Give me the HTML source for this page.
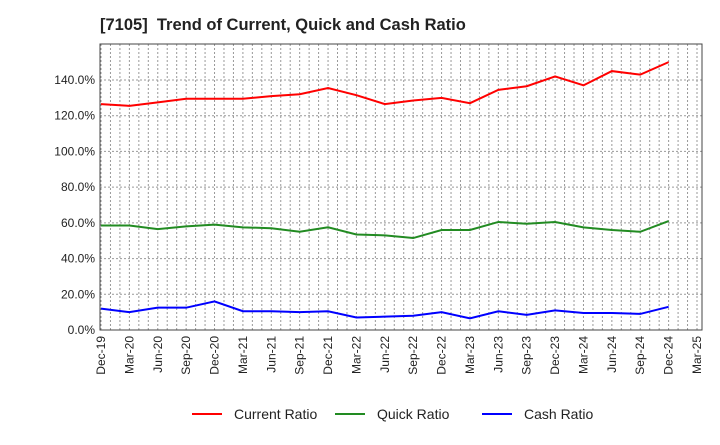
<!DOCTYPE html>
<html><head><meta charset="utf-8"><style>
body{margin:0;background:#fff;font-family:"Liberation Sans",Arial,sans-serif;}
</style></head><body>
<svg id="chart" width="720" height="440" xmlns="http://www.w3.org/2000/svg">
<text x="100" y="30" font-size="16.5" font-weight="bold" fill="#222" xml:space="preserve">[7105]  Trend of Current, Quick and Cash Ratio</text>
<g id="grid"></g>
<g id="axes"></g>
<g id="series"></g>
<g id="legend"></g>
</svg>
<script>
const categories=["Dec-19","Mar-20","Jun-20","Sep-20","Dec-20","Mar-21","Jun-21","Sep-21","Dec-21","Mar-22","Jun-22","Sep-22","Dec-22","Mar-23","Jun-23","Sep-23","Dec-23","Mar-24","Jun-24","Sep-24","Dec-24","Mar-25"];
const currentRatio=[126.5,125.5,127.5,129.5,129.5,129.5,131,132,135.5,131.5,126.5,128.5,130,127,134.5,136.5,142,137,145,143,150];
const quickRatio=[58.5,58.5,56.5,58,59,57.5,57,55,57.5,53.5,53,51.5,56,56,60.5,59.5,60.5,57.5,56,55,61];
const cashRatio=[12,10,12.5,12.5,16,10.5,10.5,10,10.5,7,7.5,8,10,6.5,10.5,8.5,11,9.5,9.5,9,13];
const yTicks=[0,20,40,60,80,100,120,140];
const L=100,R=702,T=44,B=330;
const xs=i=>L+1+i*(697-101)/21;
const ys=v=>B-v*(250/140);
const NS="http://www.w3.org/2000/svg";
function mk(p,t,a){const e=document.createElementNS(NS,t);for(const k in a)e.setAttribute(k,a[k]);p.appendChild(e);return e;}
const grid=document.getElementById('grid'),axes=document.getElementById('axes'),series=document.getElementById('series'),legend=document.getElementById('legend');
for(let m=0;m<=(categories.length-1)*3+1;m++){
 const x=xs(m/3);
 if(x>=R)break;
 const l=mk(grid,'line',{x1:x,x2:x,y1:T,y2:B,stroke:'#999','stroke-dasharray':'2,2','stroke-width':1});
 
 
}
categories.forEach((c,i)=>{
 const t=mk(axes,'text',{x:0,y:0,'font-size':12,fill:'#222','text-anchor':'end',transform:`translate(${xs(i)+4},${B+6}) rotate(-90)`});
 t.textContent=c;
 
 
});
yTicks.forEach(v=>{
 const l=mk(grid,'line',{x1:L,x2:R,y1:ys(v),y2:ys(v),stroke:'#999','stroke-dasharray':'2,2','stroke-width':1});
 
 
 const t=mk(axes,'text',{x:L-5,y:ys(v)+4,'font-size':12,fill:'#222','text-anchor':'end'});
 t.textContent=v.toFixed(1)+'%';
 
 
});
const frame=mk(axes,'rect',{x:L,y:T,width:R-L,height:B-T,fill:'none',stroke:'#444','stroke-width':1});


const defs=[["Current Ratio",currentRatio,"#ff0000","current-ratio-line"],["Quick Ratio",quickRatio,"#228b22","quick-ratio-line"],["Cash Ratio",cashRatio,"#0000ff","cash-ratio-line"]];
defs.forEach(([n,d,c,name])=>{
 const p=mk(series,'polyline',{points:d.map((v,i)=>xs(i)+','+ys(v)).join(' '),fill:'none',stroke:c,'stroke-width':2});
 
 
});
const lx=[192,335,482];
defs.forEach(([n,d,c],k)=>{
 const g=mk(legend,'g',{});
 
 
 mk(g,'line',{x1:lx[k],x2:lx[k]+30,y1:414,y2:414,stroke:c,'stroke-width':2});
 const t=mk(g,'text',{x:lx[k]+42,y:419,'font-size':14,fill:'#222'});
 t.textContent=n;
});
</script>
</body></html>
